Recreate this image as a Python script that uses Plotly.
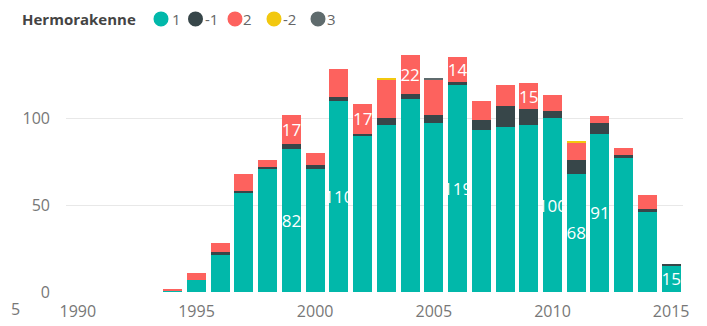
import plotly.graph_objects as go

# ---- data ----
years = list(range(1994, 2016))
v_1 =  [1, 7, 21, 57, 71, 82, 71, 110, 90, 96, 111, 97, 119, 93, 95, 96, 100, 68, 91, 77, 46, 15]
v_m1 = [0, 0, 2, 1, 1, 3, 2, 2, 1, 4, 3, 5, 2, 6, 12, 9, 4, 8, 6, 2, 2, 1]
v_2 =  [1, 4, 5, 10, 4, 17, 7, 16, 17, 22, 22, 20, 14, 11, 12, 15, 9, 10, 4, 4, 8, 0]
v_m2 = [0, 0, 0, 0, 0, 0, 0, 0, 0, 1, 0, 0, 0, 0, 0, 0, 0, 1, 0, 0, 0, 0]
v_3 =  [0, 0, 0, 0, 0, 0, 0, 0, 0, 0, 0, 1, 0, 0, 0, 0, 0, 0, 0, 0, 0, 0]

series_names = ["1", "-1", "2", "-2", "3"]
series_values = [v_1, v_m1, v_2, v_m2, v_3]
series_colors = ["#01B8AA", "#374649", "#FD625E", "#F2C80F", "#5F6B6D"]
# years whose segment shows a data label (as in the reference)
labelled_years = {
    "1": [1999, 2001, 2006, 2010, 2011, 2012, 2015],
    "2": [1999, 2002, 2004, 2006, 2009],
}
legend_title = "Hermorakenne"
x_tickvals = [1990, 1995, 2000, 2005, 2010, 2015]
y_tickvals = [0, 50, 100]

W, H = 707, 326
# page offset compensation (page renders figure shifted by ~8px)
ML, MR, MT, MB = 58, 32, 37, 30
PLOT_L, PLOT_R, PLOT_T, PLOT_B = 66, 683, 45, 296   # target screen pixels
PW, PH = PLOT_R - PLOT_L, PLOT_B - PLOT_T

def px_x(X):
    return (X - PLOT_L) / PW

def px_y(Y):
    return (PLOT_B - Y) / PH

FONT = "Open Sans, Segoe UI, sans-serif"
TICK_COLOR = "#777777"
LEG_Y = 18.5

fig = go.Figure()
for name, vals, col in zip(series_names, series_values, series_colors):
    lab = labelled_years.get(name, [])
    texts = [str(v) if y in lab else "" for y, v in zip(years, vals)]
    fig.add_trace(go.Bar(
        x=years, y=vals, name=name,
        marker=dict(color=col, line=dict(width=0)),
        text=texts, textposition="inside", insidetextanchor="middle",
        textangle=0, constraintext="none",
        insidetextfont=dict(color="white", size=17, family=FONT),
        showlegend=False, hoverinfo="x+y+name",
    ))

fig.update_layout(
    width=W, height=H,
    margin=dict(l=ML, r=MR, t=MT, b=MB),
    barmode="stack", bargap=0.2,
    plot_bgcolor="white", paper_bgcolor="white",
    font=dict(family=FONT, color=TICK_COLOR, size=16),
    xaxis=dict(range=[1989.5, 2015.5], tickvals=x_tickvals,
               showgrid=False, zeroline=False, showline=False,
               ticks="", ticklabelstandoff=8,
               tickfont=dict(size=16, color=TICK_COLOR, family=FONT)),
    yaxis=dict(range=[0, 142], tickvals=y_tickvals,
               showgrid=True, gridcolor="#E8E8E8", gridwidth=1,
               zeroline=False, showline=False,
               ticks="", ticklabelstandoff=15,
               tickfont=dict(size=16, color=TICK_COLOR, family=FONT)),
)

# custom legend (title, circles, labels)
annotations = [dict(text="<b>" + legend_title + "</b>", xref="paper", yref="paper",
                    x=px_x(20), y=px_y(LEG_Y), xanchor="left", yanchor="middle",
                    showarrow=False, font=dict(size=15, color="#444444", family=FONT))]
shapes = []
circle_cx = [161, 195.5, 235, 274, 318]
label_x = [170, 203, 241, 281, 325]
for name, col, cx, lx in zip(series_names, series_colors, circle_cx, label_x):
    shapes.append(dict(type="circle", xref="paper", yref="paper",
                       xsizemode="pixel", ysizemode="pixel",
                       xanchor=px_x(cx), yanchor=px_y(LEG_Y),
                       x0=-7.5, x1=7.5, y0=-7.5, y1=7.5,
                       fillcolor=col, line=dict(width=0)))
    annotations.append(dict(text=name, xref="paper", yref="paper",
                            x=px_x(lx), y=px_y(LEG_Y), xanchor="left", yanchor="middle",
                            showarrow=False, font=dict(size=15, color="#666666", family=FONT)))
# partially visible tick label at the left edge
annotations.append(dict(text="5", xref="paper", yref="paper",
                        x=px_x(9), y=px_y(313), xanchor="left", yanchor="middle",
                        showarrow=False, font=dict(size=16, color=TICK_COLOR, family=FONT)))
fig.update_layout(annotations=annotations, shapes=shapes)

fig.write_html("out.html", config={"displayModeBar": False})
